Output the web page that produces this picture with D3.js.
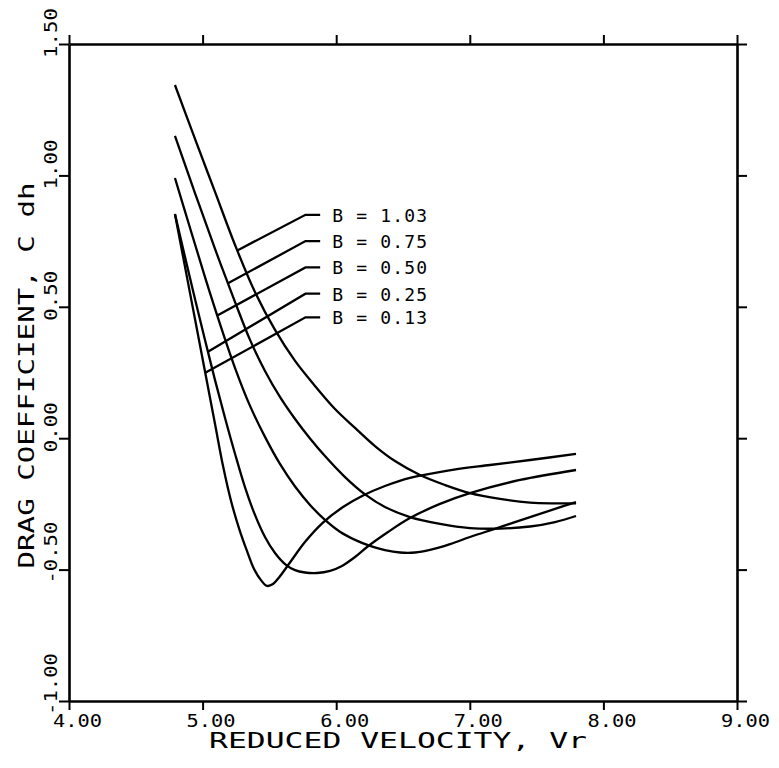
<!DOCTYPE html>
<html>
<head>
<meta charset="utf-8">
<script src="https://cdn.jsdelivr.net/npm/d3@7/dist/d3.min.js"></script>
<style>
  body { margin: 0; background: #fff; }
  text { font-family: "DejaVu Sans Mono", "Liberation Mono", monospace; fill: #000; }
</style>
</head>
<body>
<div id="chart"></div>
<script>
// axis ticks
const vrTicks = [4, 5, 6, 7, 8, 9];
const vrTickLabels = ["4.00", "5.00", "6.00", "7.00", "8.00", "9.00"];
const cdhTicks = [-1, -0.5, 0, 0.5, 1, 1.5];
const cdhTickLabels = ["-1.00", "-0.50", "0.00", "0.50", "1.00", "1.50"];

// B = 0.13
const vr013 = [4.793, 4.853, 4.913, 4.973, 5.033, 5.093, 5.153, 5.213, 5.272, 5.332, 5.385, 5.437, 5.482, 5.527, 5.572, 5.654, 5.766, 5.901, 6.051, 6.201, 6.365, 6.552, 6.814, 7.151, 7.451, 7.795];
const cdh013 = [0.853, 0.693, 0.533, 0.374, 0.214, 0.054, -0.106, -0.239, -0.342, -0.429, -0.498, -0.540, -0.562, -0.555, -0.530, -0.473, -0.395, -0.321, -0.262, -0.218, -0.182, -0.151, -0.125, -0.102, -0.083, -0.060];
// B = 0.25
const vr025 = [4.793, 4.868, 4.943, 5.018, 5.093, 5.168, 5.243, 5.317, 5.392, 5.467, 5.542, 5.617, 5.692, 5.766, 5.856, 5.954, 6.043, 6.141, 6.231, 6.388, 6.552, 6.777, 7.001, 7.376, 7.795];
const cdh025 = [0.853, 0.690, 0.530, 0.374, 0.221, 0.077, -0.060, -0.186, -0.292, -0.376, -0.437, -0.479, -0.502, -0.511, -0.513, -0.505, -0.486, -0.452, -0.414, -0.357, -0.304, -0.250, -0.209, -0.159, -0.121];
// B = 0.50
const vr050 = [4.793, 4.906, 5.018, 5.130, 5.243, 5.355, 5.467, 5.579, 5.692, 5.804, 5.916, 6.028, 6.141, 6.253, 6.365, 6.478, 6.590, 6.702, 6.852, 7.001, 7.204, 7.451, 7.638, 7.795];
const cdh050 = [0.990, 0.800, 0.613, 0.435, 0.267, 0.123, 0.005, -0.098, -0.184, -0.254, -0.311, -0.356, -0.387, -0.410, -0.426, -0.435, -0.435, -0.425, -0.403, -0.376, -0.342, -0.300, -0.269, -0.243];
// B = 0.75
const vr075 = [4.793, 4.943, 5.093, 5.243, 5.355, 5.467, 5.579, 5.692, 5.804, 5.916, 6.066, 6.216, 6.365, 6.552, 6.777, 7.001, 7.226, 7.451, 7.638, 7.795];
const cdh075 = [1.150, 0.933, 0.720, 0.518, 0.374, 0.256, 0.157, 0.073, -0.001, -0.068, -0.148, -0.214, -0.262, -0.300, -0.326, -0.342, -0.344, -0.336, -0.319, -0.296];
// B = 1.03
const vr103 = [4.793, 4.943, 5.093, 5.243, 5.392, 5.542, 5.692, 5.841, 5.991, 6.141, 6.290, 6.440, 6.627, 6.814, 7.001, 7.226, 7.451, 7.638, 7.795];
const cdh103 = [1.344, 1.139, 0.937, 0.735, 0.556, 0.412, 0.294, 0.199, 0.111, 0.039, -0.030, -0.087, -0.140, -0.178, -0.209, -0.231, -0.245, -0.248, -0.248];

// legend
const legendLabels = ["B = 1.03", "B = 0.75", "B = 0.50", "B = 0.25", "B = 0.13"];
const legendCdh = [0.85, 0.75, 0.65, 0.55, 0.46];
const leaderVr = [5.26, 5.19, 5.11, 5.04, 5.02];

const series = [
    { vr: vr103, cdh: cdh103 },
    { vr: vr075, cdh: cdh075 },
    { vr: vr050, cdh: cdh050 },
    { vr: vr025, cdh: cdh025 },
    { vr: vr013, cdh: cdh013 }
];

const width = 779, height = 768;
const margin = { top: 44, right: 42, bottom: 67, left: 69 };
const innerW = width - margin.left - margin.right,
    innerH = height - margin.top - margin.bottom;

const svg = d3.select("#chart")
    .append("svg")
    .attr("width", width)
    .attr("height", height);

const xScale = d3.scaleLinear().domain([4, 9]).range([0, innerW]);
const yScale = d3.scaleLinear().domain([-1, 1.5]).range([innerH, 0]);

const g = svg.append("g")
    .attr("transform", "translate(" + margin.left + "," + margin.top + ")");

// frame with outward ticks on all four sides
const styleAxis = sel => {
    sel.selectAll("text").remove();
    sel.select(".domain").attr("stroke-width", 2.6);
    sel.selectAll(".tick line").attr("stroke-width", 2);
};
g.append("g").attr("transform", "translate(0," + innerH + ")")
    .call(d3.axisBottom(xScale).tickValues(vrTicks).tickSize(9).tickSizeOuter(0)).call(styleAxis);
g.append("g")
    .call(d3.axisTop(xScale).tickValues(vrTicks).tickSize(9).tickSizeOuter(0)).call(styleAxis);
g.append("g")
    .call(d3.axisLeft(yScale).tickValues(cdhTicks).tickSize(10).tickSizeOuter(0)).call(styleAxis);
g.append("g").attr("transform", "translate(" + innerW + ",0)")
    .call(d3.axisRight(yScale).tickValues(cdhTicks).tickSize(10).tickSizeOuter(0)).call(styleAxis);

// tick labels
g.selectAll(".xlab")
    .data(vrTicks)
    .enter().append("text")
    .attr("class", "xlab")
    .attr("x", d => xScale(d) - 16)
    .attr("y", innerH + 26)
    .attr("font-size", "18px")
    .attr("textLength", 49)
    .attr("lengthAdjust", "spacingAndGlyphs")
    .text((d, i) => vrTickLabels[i]);

g.selectAll(".ylab")
    .data(cdhTicks)
    .enter().append("text")
    .attr("class", "ylab")
    .attr("transform", d => "translate(-12," + (yScale(d) + 14) + ") rotate(-90)")
    .attr("font-size", "18px")
    .attr("textLength", (d, i) => cdhTickLabels[i].length > 4 ? 62 : 50)
    .attr("lengthAdjust", "spacingAndGlyphs")
    .text((d, i) => cdhTickLabels[i]);

// axis titles
svg.append("text")
    .attr("x", margin.left + innerW / 2 - 5)
    .attr("y", 748)
    .attr("text-anchor", "middle")
    .attr("font-size", "21px")
    .attr("textLength", 378)
    .attr("lengthAdjust", "spacingAndGlyphs")
    .text("REDUCED VELOCITY,  Vr");

svg.append("text")
    .attr("transform", "translate(34," + (margin.top + innerH / 2 + 3) + ") rotate(-90)")
    .attr("text-anchor", "middle")
    .attr("font-size", "21px")
    .attr("textLength", 386)
    .attr("lengthAdjust", "spacingAndGlyphs")
    .text("DRAG COEFFICIENT,  C dh");

// curves
const line = d3.line()
    .x(d => xScale(d[0]))
    .y(d => yScale(d[1]))
    .curve(d3.curveCatmullRom.alpha(0.5));

g.selectAll(".curve")
    .data(series)
    .enter().append("path")
    .attr("class", "curve")
    .attr("fill", "none")
    .attr("stroke", "black")
    .attr("stroke-width", 2.3)
    .attr("stroke-linejoin", "round")
    .attr("d", s => line(s.vr.map((v, i) => [v, s.cdh[i]])));

// leaders + labels
const cdhAt = (s, v) => {
    const i = Math.max(1, d3.bisectLeft(s.vr, v));
    const t = (v - s.vr[i - 1]) / (s.vr[i] - s.vr[i - 1]);
    return s.cdh[i - 1] + t * (s.cdh[i] - s.cdh[i - 1]);
};
const kneeVr = 5.77, endVr = 5.88, textVr = 5.97;

g.selectAll(".leader")
    .data(series)
    .enter().append("polyline")
    .attr("class", "leader")
    .attr("fill", "none")
    .attr("stroke", "black")
    .attr("stroke-width", 2.3)
    .attr("points", (s, i) => [
        [xScale(leaderVr[i]), yScale(cdhAt(s, leaderVr[i]))],
        [xScale(kneeVr), yScale(legendCdh[i])],
        [xScale(endVr), yScale(legendCdh[i])]
    ].map(p => p.join(",")).join(" "));

g.selectAll(".legend")
    .data(legendLabels)
    .enter().append("text")
    .attr("class", "legend")
    .attr("x", xScale(textVr))
    .attr("y", (d, i) => yScale(legendCdh[i]) + 7)
    .attr("font-size", "18px")
    .attr("textLength", 95)
    .attr("lengthAdjust", "spacing")
    .text(d => d);
</script>
</body>
</html>
